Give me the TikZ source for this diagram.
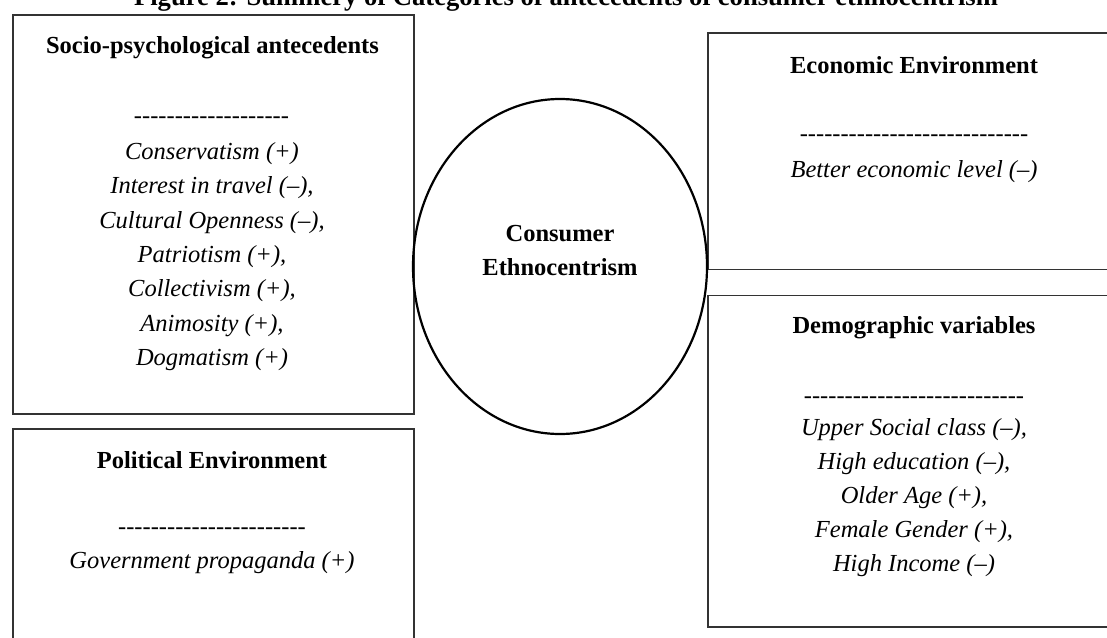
\documentclass[tikz,border=0pt]{standalone}
\usepackage{fontspec}
\setmainfont{Liberation Serif}
\newfontfamily\dashfont{Liberation Serif}
\usetikzlibrary{shapes.geometric}
\begin{document}
\begin{tikzpicture}[x=1pt,y=-1pt,
  boxline/.style={draw=black!80, line width=1.6pt, rectangle, inner sep=0pt, anchor=north west},
  titletxt/.style={anchor=base, inner sep=0pt, font=\fontsize{26.6}{30}\selectfont\bfseries},
  headtxt/.style={anchor=base, inner sep=0pt, font=\fontsize{24.5}{29}\selectfont\bfseries},
  itemtxt/.style={anchor=base, inner sep=0pt, font=\fontsize{24.5}{29}\selectfont\itshape},
  dashtxt/.style={anchor=base, inner sep=0pt, font=\fontsize{24.5}{29}\dashfont\itshape},
]
\useasboundingbox (0,0) rectangle (1107,637);
\clip (0,0) rectangle (1107,637);

% title (cut off at the top, as in the reference)
\node[titletxt] (title) at (566,5.5) {Figure 2: Summery of Categories of antecedents of consumer ethnocentrism};

% boxes
\node[boxline, minimum width=401pt, minimum height=399pt] (spbox) at (12,14) {};
\node[boxline, minimum width=401pt, minimum height=240pt] (pebox) at (12,428) {};
\node[boxline, minimum width=414pt, minimum height=236.5pt] (eebox) at (707,32) {};
\node[boxline, minimum width=414pt, minimum height=331.5pt] (dvbox) at (707,294.5) {};

% central ellipse
\node[draw=black, ellipse, line width=2.2pt, minimum width=294pt, minimum height=335pt, inner sep=0pt] (ce) at (560,266.5) {};
\node[headtxt] (ce1) at (560,241.7) {Consumer};
\node[headtxt] (ce2) at (560,275) {Ethnocentrism};

% socio-psychological antecedents
\node[headtxt] (sph) at (212.5,53) {Socio-psychological antecedents};
\node[dashtxt] (spd) at (211.5,123) {-------------------};
\foreach \t [count=\i] in {{Conservatism (+)},{Interest in travel (–),},{Cultural Openness (–),},{Patriotism (+),},{Collectivism (+),},{Animosity (+),},{Dogmatism (+)}}
  \node[itemtxt] (sp\i) at ({212},{159.5+34.3*(\i-1)}) {\t};

% political environment
\node[headtxt] (peh) at (212,468) {Political Environment};
\node[dashtxt] (ped) at (212,534) {-----------------------};
\node[itemtxt] (pe1) at (212,568) {Government propaganda (+)};

% economic environment
\node[headtxt] (eeh) at (914,73) {Economic Environment};
\node[dashtxt] (eed) at (914,141) {----------------------------};
\node[itemtxt] (ee1) at (914,177) {Better economic level (–)};

% demographic variables
\node[headtxt] (dvh) at (914,333) {Demographic variables};
\node[dashtxt] (dvd) at (914,403) {---------------------------};
\foreach \t [count=\i] in {{Upper Social class (–),},{High education (–),},{Older Age (+),},{Female Gender (+),},{High Income (–)}}
  \node[itemtxt] (dv\i) at ({914},{435+34.2*(\i-1)}) {\t};
\end{tikzpicture}
\end{document}
